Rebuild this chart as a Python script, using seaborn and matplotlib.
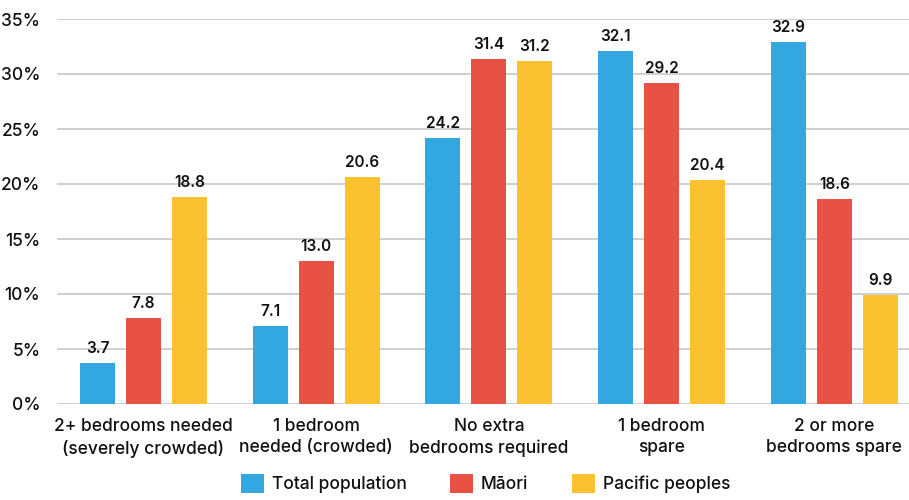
import matplotlib
matplotlib.use("Agg")
import matplotlib.pyplot as plt
import seaborn as sns
import pandas as pd
from matplotlib.ticker import FuncFormatter
from matplotlib.patches import Patch

categories = ["2+ bedrooms needed\n(severely crowded)", "1 bedroom\nneeded (crowded)",
              "No extra\nbedrooms required", "1 bedroom\nspare", "2 or more\nbedrooms spare"]
groups = ["Total population", "Māori", "Pacific peoples"]
total_population = [3.7, 7.1, 24.2, 32.1, 32.9]
maori = [7.8, 13.0, 31.4, 29.2, 18.6]
pacific_peoples = [18.8, 20.6, 31.2, 20.4, 9.9]
colors = ["#33a8e0", "#e85244", "#fcc131"]

rows = []
for g, vals in zip(groups, [total_population, maori, pacific_peoples]):
    for c, v in zip(categories, vals):
        rows.append({"category": c, "group": g, "value": v})
df = pd.DataFrame(rows)

sns.set_style("white")
plt.rcParams["font.family"] = ["Inter", "DejaVu Sans"]
plt.rcParams["font.weight"] = "medium"
plt.rcParams["text.color"] = "#111111"

fig = plt.figure(figsize=(9.09, 5), dpi=100)
ax = fig.add_axes([0.0628, 0.192, 0.950, 0.770])
sns.barplot(data=df, x="category", y="value", hue="group", order=categories,
            hue_order=groups, palette=colors, width=0.8, gap=0.24,
            saturation=1, linewidth=0, ax=ax, legend=False, zorder=3)

for cont in ax.containers:
    ax.bar_label(cont, fmt="%.1f", padding=5, fontsize=11, fontweight="semibold",
                 color="#111111")

ax.set_ylim(0, 35)
ax.set_xlim(-0.5, 4.5)
ax.set_yticks(range(0, 36, 5))
ax.yaxis.set_major_formatter(FuncFormatter(lambda v, p: f"{v:.0f}%"))
ax.grid(axis="y", color="#cccccc", linewidth=1.3, zorder=0)
for s in ax.spines.values():
    s.set_visible(False)
ax.tick_params(axis="y", labelsize=12.5, length=0, pad=12, labelcolor="#111111")
ax.tick_params(axis="x", labelsize=12.5, length=0, pad=10, labelcolor="#111111")
for lbl in ax.get_xticklabels():
    lbl.set_linespacing(1.35)
ax.set_xlabel("")
ax.set_ylabel("")

handles = [Patch(facecolor=c, edgecolor="none") for c in colors]
fig.legend(handles, groups, loc="center", bbox_to_anchor=(0.534, 0.033), ncol=3,
           frameon=False, fontsize=12.5, handlelength=1.33, handleheight=1.33,
           columnspacing=2.5, handletextpad=0.45, borderpad=0, borderaxespad=0)

fig.savefig("out.png", dpi=100)
